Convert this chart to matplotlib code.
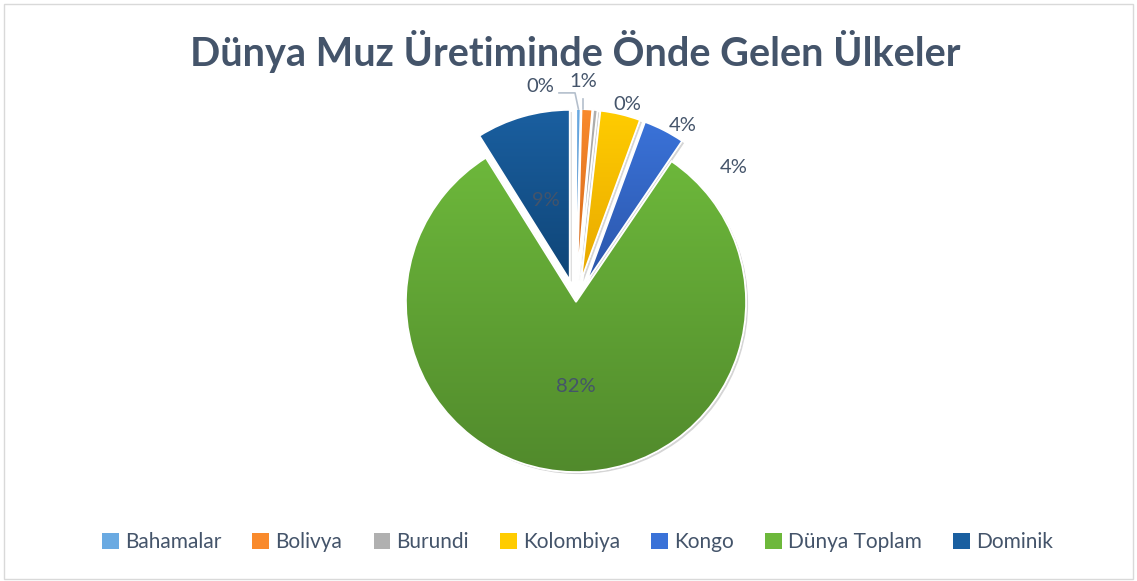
import numpy as np
import matplotlib
matplotlib.use("Agg")
import matplotlib.pyplot as plt
from matplotlib.colors import LinearSegmentedColormap
from matplotlib.patches import Patch
import matplotlib.patheffects as pe

countries = ["Bahamalar", "Bolivya", "Burundi", "Kolombiya", "Kongo", "Dünya Toplam", "Dominik"]
shares = [0.4, 1.0, 0.4, 3.8, 3.9, 81.6, 8.9]
# (top, bottom) gradient colours per slice
top_colors = ["#6aaae2", "#f98a2c", "#b0b0b0", "#ffcc00", "#3a72d8", "#6db83b", "#1a5fa0"]
bottom_colors = ["#4d88c2", "#d2661a", "#8e8e8e", "#e8a800", "#2b56aa", "#518a2c", "#0f4577"]
explode = [0.135, 0.135, 0.135, 0.135, 0.135, 0.0, 0.135]
# label positions in pie-radius units (best-fit placement from the original)
label_pos = [(-0.21, 1.27), (0.04, 1.295), (0.30, 1.16), (0.63, 1.04), (0.93, 0.79), (0.0, -0.50), (-0.18, 0.60)]

TXT = "#44546A"
R_PX = 170.0
CX, CY = 576.0, 302.0
W, H = 1137, 581

fig = plt.figure(figsize=(W / 100, H / 100), dpi=100)
ax = fig.add_axes([0, 0, 1, 1])
ax.set_aspect("equal")
ax.axis("off")

wedges, _ = ax.pie(shares, explode=explode, startangle=90, counterclock=False,
                   colors=bottom_colors, radius=1.0,
                   wedgeprops=dict(edgecolor="white", linewidth=1.2))

grad = np.linspace(0, 1, 256).reshape(-1, 1)
for w, c1, c2 in zip(wedges, top_colors, bottom_colors):
    w.set_path_effects([pe.SimplePatchShadow(offset=(1.5, -1.5), shadow_rgbFace="#888888", alpha=0.35),
                        pe.Normal()])
    ext = w.get_path().get_extents()
    cmap = LinearSegmentedColormap.from_list("g", [c2, c1])
    im = ax.imshow(grad, cmap=cmap, origin="lower", aspect="auto",
                   extent=[ext.x0, ext.x1, ext.y0, ext.y1], zorder=w.get_zorder() + 0.1)
    im.set_clip_path(w)
    # keep the white separating edges on top
    ax.add_patch(matplotlib.patches.PathPatch(w.get_path(), facecolor="none",
                                              edgecolor="white", linewidth=1.2,
                                              zorder=w.get_zorder() + 0.2))

total = sum(shares)
for i, (v, (lx, ly)) in enumerate(zip(shares, label_pos)):
    ax.text(lx, ly, f"{v / total * 100:.0f}%", ha="center", va="center",
            fontsize=14.5, color=TXT, family="Lato", zorder=5)

# leader lines for the two tiny slices
for i in (0, 1):
    w = wedges[i]
    mid = np.deg2rad((w.theta1 + w.theta2) / 2)
    cx, cy = w.center
    px, py = cx + np.cos(mid) * 1.0, cy + np.sin(mid) * 1.0
    lx, ly = label_pos[i]
    if i == 0:
        xs = [lx + 0.11, px - 0.02, px]
        ys = [ly - 0.04, ly - 0.04, py]
    else:
        xs = [lx, lx]
        ys = [ly - 0.1, py]
    ax.plot(xs, ys, color="#b4bfcc", lw=1.2, zorder=4)

ax.set_xlim(-CX / R_PX, (W - CX) / R_PX)
ax.set_ylim(-(H - CY) / R_PX, CY / R_PX)

fig.text(0.506, 0.912, "Dünya Muz Üretiminde Önde Gelen Ülkeler", ha="center", va="center",
         fontsize=28.5, fontweight="bold", color=TXT, family="Lato")

handles = [Patch(facecolor=c, edgecolor="none") for c in top_colors]
fig.legend(handles, countries, loc="center", bbox_to_anchor=(0.508, 0.067), ncol=7,
           frameon=False, prop=dict(family="Lato", size=15), labelcolor=TXT,
           handlelength=0.8, handleheight=0.8, handletextpad=0.3, columnspacing=1.5)

# thin chart border
fig.patches.append(matplotlib.patches.Rectangle((4 / W, 2 / H), (W - 8) / W, (H - 6) / H,
                                                transform=fig.transFigure, fill=False,
                                                edgecolor="#d9d9d9", lw=1))

fig.savefig("out.png", dpi=100)
